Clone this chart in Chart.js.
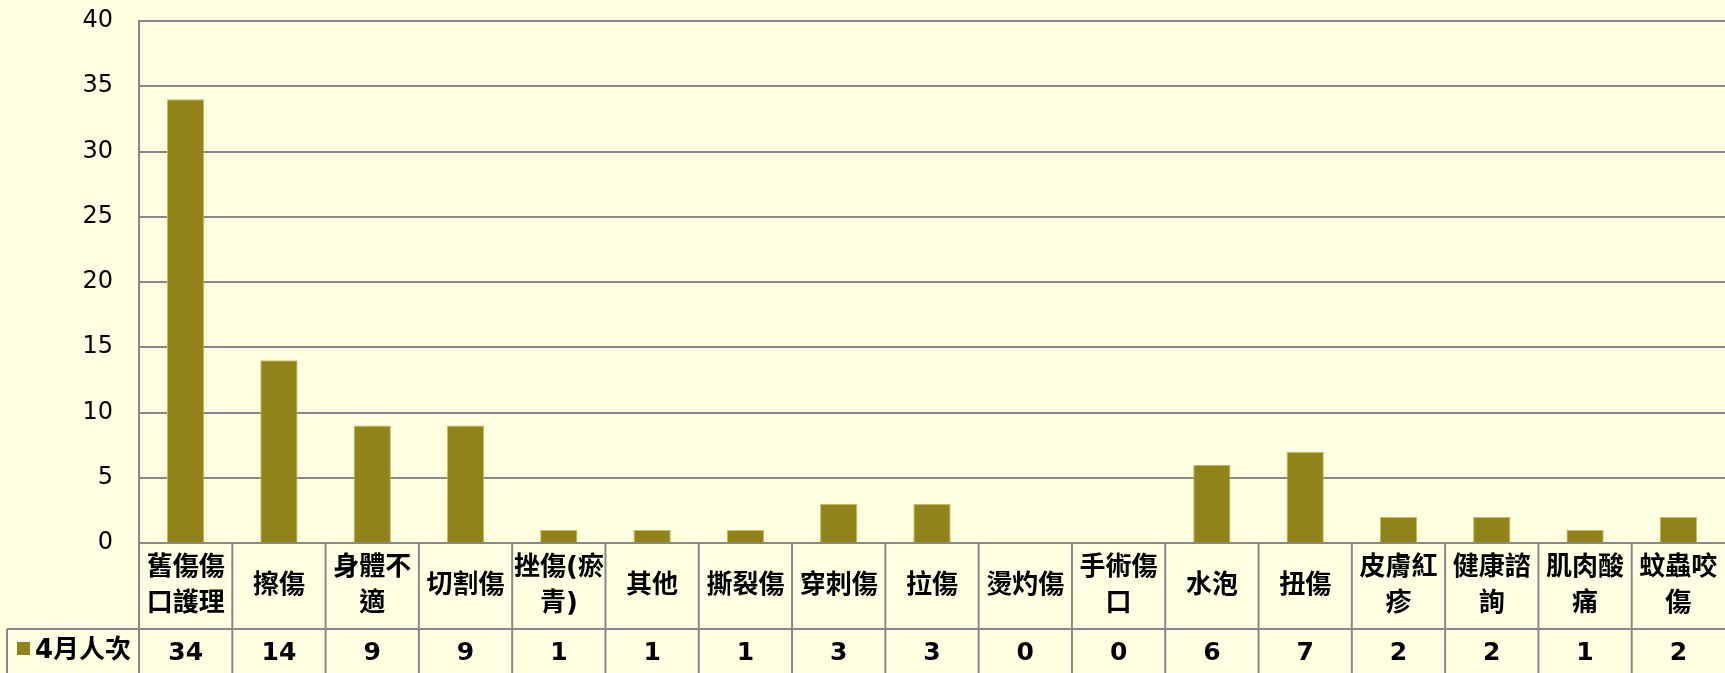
<!DOCTYPE html>
<html>
<head>
<meta charset="utf-8">
<script src="https://cdn.jsdelivr.net/npm/chart.js@4.4.0/dist/chart.umd.min.js"></script>
<style>
  html, body { margin: 0; padding: 0; background: #FFFFE1; }
  #wrap { width: 1725px; height: 673px; position: relative; }
</style>
</head>
<body>
<div id="wrap"><canvas id="injuryChart"></canvas></div>
<script>
// ============================================
// DATA
// ============================================

const CATEGORIES = [
  ["舊傷傷", "口護理"], ["擦傷"], ["身體不", "適"], ["切割傷"], ["挫傷(瘀", "青)"],
  ["其他"], ["撕裂傷"], ["穿刺傷"], ["拉傷"], ["燙灼傷"], ["手術傷", "口"],
  ["水泡"], ["扭傷"], ["皮膚紅", "疹"], ["健康諮", "詢"], ["肌肉酸", "痛"], ["蚊蟲咬", "傷"]
];

const VALUES = [34, 14, 9, 9, 1, 1, 1, 3, 3, 0, 0, 6, 7, 2, 2, 1, 2];

const SERIES_LABEL = "4月人次";

const Y_MIN = 0;
const Y_MAX = 40;
const Y_STEP = 5;


const OLIVE = "#8F8319";
const LINE_GRAY = "#888888";
const NUM_FONT = "'DejaVu Sans', 'Noto Sans CJK TC', sans-serif";
const CJK_FONT = "'DejaVu Sans', 'Noto Sans CJK TC', sans-serif";


// ============================================
// DATA TABLE PLUGIN (category row + value row)
// ============================================

const dataTable = {

  id: "dataTable",

  afterDraw(chart) {

    const ctx = chart.ctx;
    const x = chart.scales.x;
    const area = chart.chartArea;

    const rowTop = area.bottom;
    const rowMid = rowTop + 86;
    const rowBottom = chart.height;
    const half = (x.getPixelForValue(1) - x.getPixelForValue(0)) / 2;

    ctx.save();

    ctx.strokeStyle = LINE_GRAY;
    ctx.lineWidth = 2;

    // horizontal line between the two rows
    ctx.beginPath();
    ctx.moveTo(7, rowMid);
    ctx.lineTo(area.right, rowMid);
    ctx.stroke();

    // left border of legend cell
    ctx.beginPath();
    ctx.moveTo(7, rowMid);
    ctx.lineTo(7, rowBottom);
    ctx.stroke();

    // vertical separators
    CATEGORIES.forEach((c, i) => {
      const left = x.getPixelForValue(i) - half;
      ctx.beginPath();
      ctx.moveTo(left, rowTop);
      ctx.lineTo(left, rowBottom);
      ctx.stroke();
    });

    ctx.fillStyle = "#000";
    ctx.textAlign = "center";
    ctx.textBaseline = "middle";

    // category labels
    ctx.font = "bold 26px " + CJK_FONT;
    CATEGORIES.forEach((lines, i) => {
      const cx = x.getPixelForValue(i);
      const cy = rowTop + 43;
      const lh = 36;
      lines.forEach((t, j) => {
        ctx.fillText(t, cx, cy + (j - (lines.length - 1) / 2) * lh);
      });
    });

    // values
    ctx.font = "bold 25px " + NUM_FONT;
    VALUES.forEach((v, i) => {
      ctx.fillText(String(v), x.getPixelForValue(i), rowMid + 24);
    });

    // legend cell
    ctx.fillStyle = OLIVE;
    ctx.fillRect(17, rowMid + 13, 13, 13);
    ctx.fillStyle = "#000";
    ctx.textAlign = "left";
    ctx.font = "bold 26px " + CJK_FONT;
    ctx.fillText(SERIES_LABEL, 35, rowMid + 22);

    ctx.restore();

  }

};


// ============================================
// CHART
// ============================================

new Chart(document.getElementById("injuryChart"), {

  type: "bar",

  data: {
    labels: CATEGORIES,
    datasets: [{
      label: SERIES_LABEL,
      data: VALUES,
      backgroundColor: OLIVE,
      borderColor: "#C8BC5A",
      borderWidth: 1,
      categoryPercentage: 1,
      barPercentage: 0.4
    }]
  },

  options: {
    responsive: true,
    maintainAspectRatio: false,
    animation: false,
    layout: {
      padding: { top: 21, bottom: 130, left: 0, right: 0 }
    },
    plugins: {
      legend: { display: false },
      tooltip: { enabled: false }
    },
    scales: {
      x: {
        display: false
      },
      y: {
        min: Y_MIN,
        max: Y_MAX,
        afterFit: scale => { scale.width = 139; },
        border: { display: true, color: LINE_GRAY, width: 2 },
        grid: {
          color: LINE_GRAY,
          lineWidth: 2,
          drawTicks: true,
          tickLength: 26,
          tickColor: "rgba(0,0,0,0)"
        },
        ticks: {
          stepSize: Y_STEP,
          padding: 0,
          color: "#000",
          font: { family: NUM_FONT, size: 24 }
        }
      }
    }
  },

  plugins: [dataTable]

});
</script>
</body>
</html>
